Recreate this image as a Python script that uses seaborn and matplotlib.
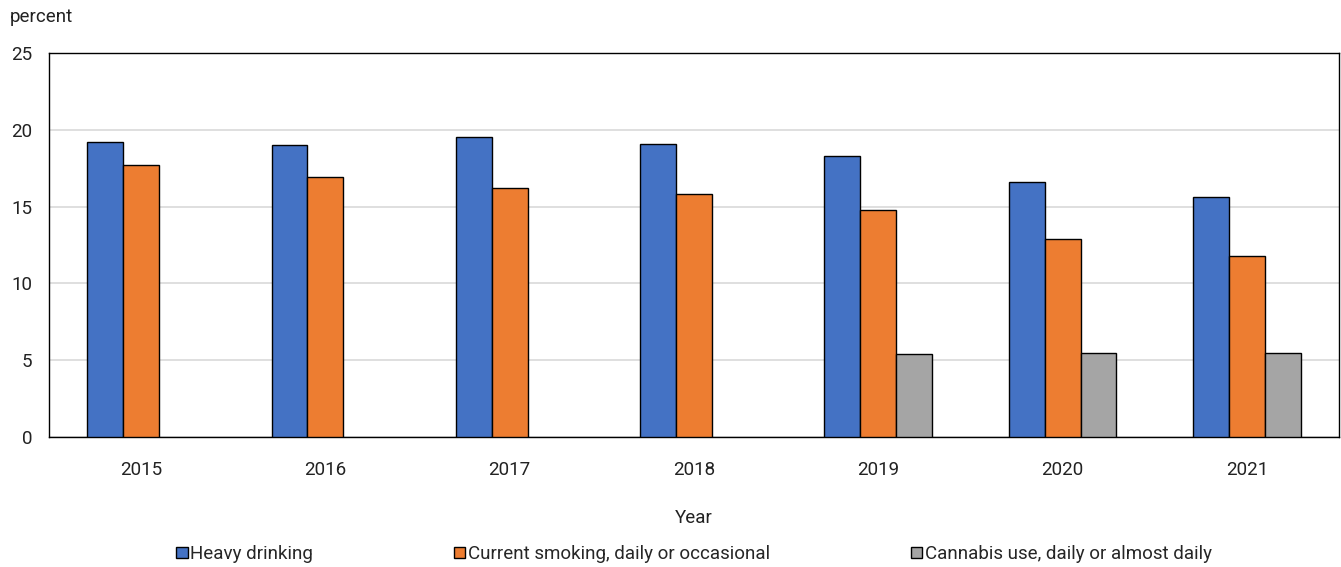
import matplotlib
matplotlib.use("Agg")
import matplotlib.pyplot as plt
import seaborn as sns
import pandas as pd
import numpy as np

years = ["2015", "2016", "2017", "2018", "2019", "2020", "2021"]
heavy_drinking = [19.2, 19.0, 19.5, 19.1, 18.3, 16.6, 15.6]
current_smoking = [17.7, 16.9, 16.2, 15.8, 14.8, 12.9, 11.8]
cannabis_use = [np.nan, np.nan, np.nan, np.nan, 5.4, 5.5, 5.5]
series_names = ["Heavy drinking", "Current smoking, daily or occasional",
                "Cannabis use, daily or almost daily"]
colors = ["#4472C4", "#ED7D31", "#A5A5A5"]

rows = []
for name, vals in zip(series_names, [heavy_drinking, current_smoking, cannabis_use]):
    for y, v in zip(years, vals):
        rows.append({"Year": y, "series": name, "value": v})
df = pd.DataFrame(rows)

sns.set_theme(style="white")
plt.rcParams["font.family"] = ["Roboto", "DejaVu Sans"]

fig = plt.figure(figsize=(13.41, 5.67), dpi=100)
ax = fig.add_axes([49/1341, 1 - 437/567, 1290/1341, 384/567])

sns.barplot(data=df, x="Year", y="value", hue="series", hue_order=series_names,
            palette=colors, width=0.585, edgecolor="black", linewidth=1.0,
            saturation=1, ax=ax, legend=True, zorder=3)

ax.set_ylim(0, 25)
ax.set_yticks([0, 5, 10, 15, 20, 25])
ax.yaxis.grid(True, color="#D9D9D9", linewidth=1.2, zorder=0)
ax.set_axisbelow(True)
for s in ax.spines.values():
    s.set_color("black")
    s.set_linewidth(1.0)
ax.tick_params(axis="both", length=0, labelsize=13.5, colors="#222222")
ax.tick_params(axis="y", pad=12)
ax.tick_params(axis="x", pad=17)
ax.set_ylabel("")
ax.set_xlabel("Year", fontsize=13.5, labelpad=22, color="#222222")
fig.text(10/1341, 1 - 17/567, "percent", fontsize=13.5, va="center", ha="left", color="#222222")

handles, labels = ax.get_legend_handles_labels()
ax.legend(handles, labels, loc="center", bbox_to_anchor=(0.5, -0.305),
          ncol=3, frameon=False, fontsize=13.5, handlelength=0.6, handleheight=0.6,
          handletextpad=0.15, columnspacing=7.5)

fig.savefig("out.png", dpi=100)
